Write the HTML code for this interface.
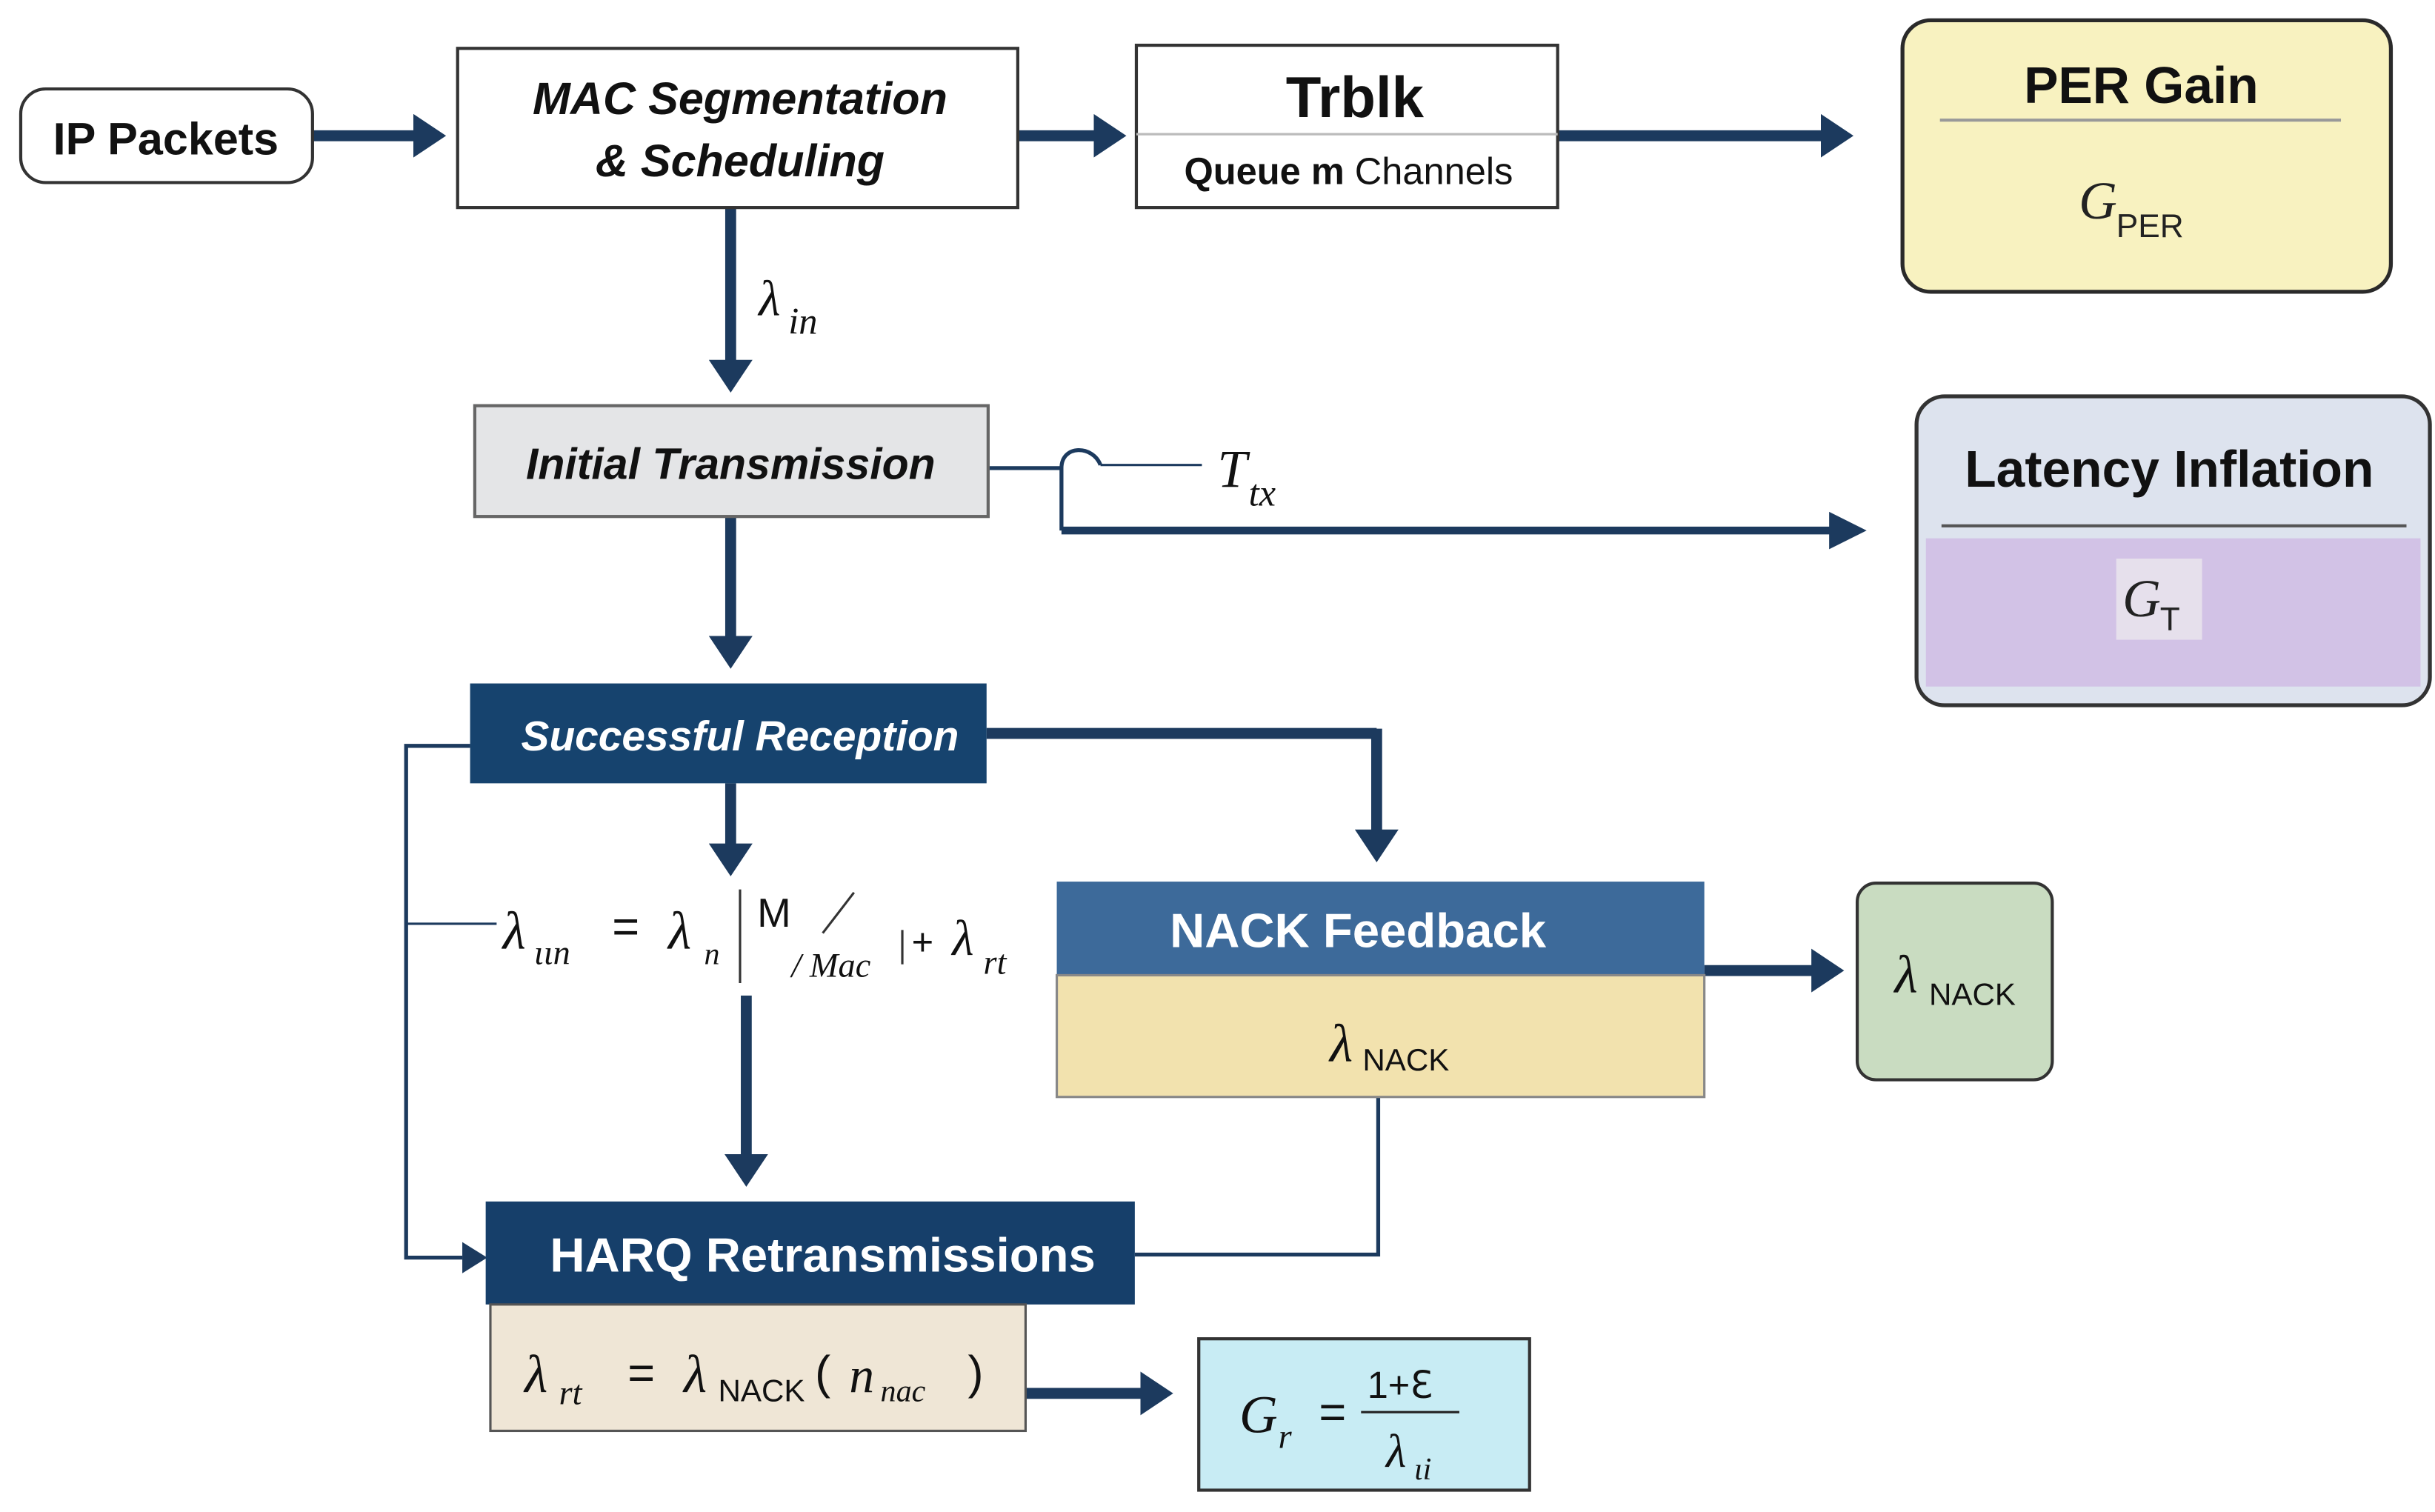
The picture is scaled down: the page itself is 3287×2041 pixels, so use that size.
<!DOCTYPE html>
<html><head><meta charset="utf-8"><style>
html,body{margin:0;padding:0;background:#fff;}
svg{display:block;}
text{font-family:"Liberation Sans",sans-serif;}
.s{font-family:"Liberation Serif",serif;font-style:italic;}
</style></head><body>
<svg width="3287" height="2041" viewBox="0 0 1560 969" xmlns="http://www.w3.org/2000/svg">
<defs>
<marker id="a" markerWidth="4" markerHeight="4" refX="2.2" refY="2" orient="auto" markerUnits="strokeWidth"><path d="M0,0 L3,2 L0,4 Z" fill="#1c3a5e"/></marker>
</defs>
<rect width="1560" height="969" fill="#fff"/>
<g stroke="#1c3a5e" stroke-width="7" fill="none">
<line x1="200" y1="87" x2="280" y2="87" marker-end="url(#a)"/>
<line x1="652" y1="87" x2="716" y2="87" marker-end="url(#a)"/>
<line x1="998" y1="87" x2="1182" y2="87" marker-end="url(#a)"/>
<line x1="468" y1="133" x2="468" y2="246" marker-end="url(#a)"/>
<line x1="468" y1="331" x2="468" y2="423" marker-end="url(#a)"/>
<line x1="468" y1="502" x2="468" y2="556" marker-end="url(#a)"/>
<line x1="478" y1="638" x2="478" y2="755" marker-end="url(#a)"/>
<line x1="632" y1="470" x2="882" y2="470"/>
<line x1="882" y1="467" x2="882" y2="547" marker-end="url(#a)"/>
<line x1="1092" y1="622" x2="1176" y2="622" marker-end="url(#a)"/>
<line x1="657" y1="893" x2="746" y2="893" marker-end="url(#a)"/>
</g>
<line x1="680" y1="340" x2="1178" y2="340" stroke="#1c3a5e" stroke-width="5"/>
<path d="M1172,328 L1196,340 L1172,352Z" fill="#1c3a5e"/>
<g stroke="#1c3a5e" stroke-width="2.5" fill="none">
<path d="M633,300 H680 V340"/>
<path d="M680,300 C680,285 700,285 705,298"/>
<line x1="705" y1="298" x2="770" y2="298" stroke-width="1.5"/>
<path d="M301,478 H260 V806 H296"/>
<path d="M883,703 V804 H727"/>
<line x1="260" y1="592" x2="318" y2="592" stroke-width="1.5"/>
</g>
<path d="M296,796 L312,806 L296,816Z" fill="#1c3a5e"/>
<rect x="13" y="57" width="187" height="60" rx="16" fill="#fff" stroke="#333" stroke-width="2"/>
<text x="106" y="99" font-size="29" font-weight="bold" text-anchor="middle" fill="#111">IP Packets</text>
<rect x="293" y="31" width="359" height="102" fill="#fff" stroke="#333" stroke-width="2"/>
<text x="474" y="73" font-size="29" font-weight="bold" font-style="italic" text-anchor="middle" fill="#111">MAC Segmentation</text>
<text x="474" y="113" font-size="29" font-weight="bold" font-style="italic" text-anchor="middle" fill="#111">&amp; Scheduling</text>
<rect x="728" y="29" width="270" height="104" fill="#fff" stroke="#333" stroke-width="2"/>
<line x1="728" y1="86" x2="998" y2="86" stroke="#bbb" stroke-width="1.5"/>
<text x="868" y="75" font-size="37" font-weight="bold" text-anchor="middle" fill="#111">Trblk</text>
<text x="864" y="118" font-size="24" text-anchor="middle" fill="#111"><tspan font-weight="bold">Queue m</tspan> Channels</text>
<rect x="1219" y="13" width="313" height="174" rx="18" fill="#f8f2c0" stroke="#2a2a2a" stroke-width="2.5"/>
<line x1="1243" y1="77" x2="1500" y2="77" stroke="#999" stroke-width="2"/>
<text x="1372" y="66" font-size="33" font-weight="bold" text-anchor="middle" fill="#111">PER Gain</text>
<text x="1332" y="140" font-size="34" class="s" fill="#222">G</text>
<text x="1356" y="152" font-size="21" fill="#222">PER</text>
<text x="486" y="202" font-size="32" class="s" fill="#111">λ</text><text x="505" y="214" font-size="24" class="s" fill="#111">in</text>
<rect x="304" y="260" width="329" height="71" fill="#e4e5e7" stroke="#666" stroke-width="2"/>
<text x="468" y="307" font-size="28" font-weight="bold" font-style="italic" text-anchor="middle" fill="#111">Initial Transmission</text>
<text x="780" y="312" font-size="34" class="s" fill="#111">T</text><text x="800" y="324" font-size="24" class="s" fill="#111">tx</text>
<rect x="1228" y="254" width="329" height="198" rx="18" fill="#dde3ee" stroke="#333" stroke-width="2.5"/>
<rect x="1234" y="345" width="317" height="95" fill="#d2c2e6"/>
<line x1="1244" y1="337" x2="1542" y2="337" stroke="#555" stroke-width="2"/>
<text x="1390" y="312" font-size="33" font-weight="bold" text-anchor="middle" fill="#111">Latency Inflation</text>
<rect x="1356" y="358" width="55" height="52" fill="#e6e0ec"/>
<text x="1360" y="395" font-size="34" class="s" fill="#222">G</text><text x="1384" y="404" font-size="21" fill="#222">T</text>
<rect x="301" y="438" width="331" height="64" fill="#16436e"/>
<text x="474" y="481" font-size="27" font-weight="bold" font-style="italic" text-anchor="middle" fill="#fff">Successful Reception</text>
<text x="322" y="608" font-size="34" class="s" fill="#111">λ</text><text x="342" y="618" font-size="22" class="s" fill="#111">ιιn</text>
<text x="392" y="604" font-size="30" fill="#111">=</text>
<text x="428" y="608" font-size="34" class="s" fill="#111">λ</text><text x="451" y="618" font-size="20" class="s" fill="#111">n</text>
<line x1="474" y1="570" x2="474" y2="630" stroke="#333" stroke-width="1.5"/>
<text x="485" y="594" font-size="26" font-family="Liberation Serif" fill="#111">M</text>
<line x1="527" y1="598" x2="547" y2="572" stroke="#333" stroke-width="1.5"/>
<text x="507" y="626" font-size="22" class="s" fill="#111">/ Mac</text>
<line x1="578" y1="596" x2="578" y2="618" stroke="#333" stroke-width="1.5"/>
<text x="584" y="612" font-size="24" fill="#111">+</text>
<text x="610" y="612" font-size="32" class="s" fill="#111">λ</text><text x="630" y="624" font-size="22" class="s" fill="#111">rt</text>
<rect x="677" y="565" width="415" height="60" fill="#3d6a9a"/>
<rect x="677" y="625" width="415" height="78" fill="#f2e2ae" stroke="#888" stroke-width="1.5"/>
<text x="870" y="607" font-size="31" font-weight="bold" text-anchor="middle" fill="#fff">NACK Feedback</text>
<text x="852" y="680" font-size="34" class="s" fill="#111">λ</text><text x="873" y="686" font-size="20" fill="#111">NACK</text>
<rect x="1190" y="566" width="125" height="126" rx="12" fill="#c9dcc1" stroke="#333" stroke-width="2"/>
<text x="1214" y="636" font-size="34" class="s" fill="#111">λ</text><text x="1236" y="644" font-size="20" fill="#111">NACK</text>
<rect x="311" y="770" width="416" height="66" fill="#163f6a"/>
<text x="527" y="815" font-size="31" font-weight="bold" text-anchor="middle" fill="#fff">HARQ Retransmissions</text>
<rect x="314" y="836" width="343" height="81" fill="#efe6d6" stroke="#555" stroke-width="1.5"/>
<text x="336" y="892" font-size="34" class="s" fill="#111">λ</text><text x="358" y="900" font-size="22" class="s" fill="#111">rt</text>
<text x="402" y="890" font-size="30" fill="#111">=</text>
<text x="438" y="892" font-size="34" class="s" fill="#111">λ</text><text x="460" y="898" font-size="20" fill="#111">NACK</text>
<text x="522" y="890" font-size="30" fill="#111">(</text>
<text x="544" y="892" font-size="32" class="s" fill="#111">n</text><text x="564" y="898" font-size="20" class="s" fill="#111">nac</text>
<text x="620" y="890" font-size="30" fill="#111">)</text>
<rect x="768" y="858" width="212" height="97" fill="#c8ecf4" stroke="#333" stroke-width="2"/>
<text x="794" y="918" font-size="34" class="s" fill="#111">G</text><text x="819" y="928" font-size="22" class="s" fill="#111">r</text>
<text x="845" y="915" font-size="30" fill="#111">=</text>
<text x="876" y="896" font-size="24" fill="#111">1+ℇ</text>
<line x1="872" y1="905" x2="935" y2="905" stroke="#222" stroke-width="1.5"/>
<text x="888" y="940" font-size="30" class="s" fill="#111">λ</text><text x="906" y="948" font-size="20" class="s" fill="#111">ιi</text>
</svg>
</body></html>
